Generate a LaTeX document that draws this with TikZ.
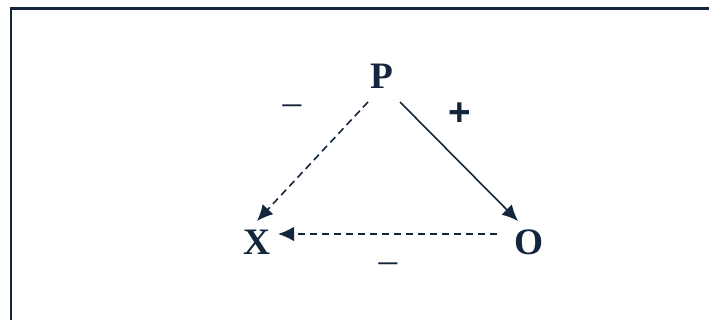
\documentclass[tikz,border=0pt]{standalone}
\usepackage{fontspec}
\setmainfont{Liberation Serif}
\newfontfamily\plusfont{Liberation Sans}
\usetikzlibrary{arrows.meta}
\definecolor{navy}{HTML}{14263D}
\tikzset{
  lbl/.style={font=\fontsize{28}{30}\selectfont\bfseries, text=navy, inner sep=0pt},
  sgn/.style={font=\fontsize{28}{30}\selectfont, text=navy, inner sep=0pt},
  conn/.style={draw=navy, line width=1.2pt, -{Latex[length=12pt,width=11pt]}},
  dconn/.style={conn, dash pattern=on 5.5pt off 3.5pt},
}
\begin{document}
\begin{tikzpicture}[x=0.75pt,y=-0.75pt]
\useasboundingbox (0,0) rectangle (709,320);
\draw[navy, line width=1.6pt] (11,8.5) rectangle (730,340);
\node[lbl] (P) at (382,76) {P};
\node[lbl] (X) at (257,242) {X};
\node[lbl] (O) at (529,242) {O};
\coordinate (PXs) at (368,102);
\coordinate (PXe) at (257,221);
\coordinate (POs) at (400,102);
\coordinate (POe) at (518,221);
\coordinate (OXs) at (497,234);
\coordinate (OXe) at (278,234);
\draw[dconn] (PXs) -- (PXe);
\draw[conn] (POs) -- (POe);
\draw[dconn] (OXs) -- (OXe);
\node[sgn] (m1) at (292,110) {–};
\node[font=\fontsize{29}{30}\selectfont\plusfont\bfseries, text=navy, inner sep=0pt] (pl) at (460,114) {+};
\node[sgn] (m2) at (388,268) {–};
\end{tikzpicture}
\end{document}
